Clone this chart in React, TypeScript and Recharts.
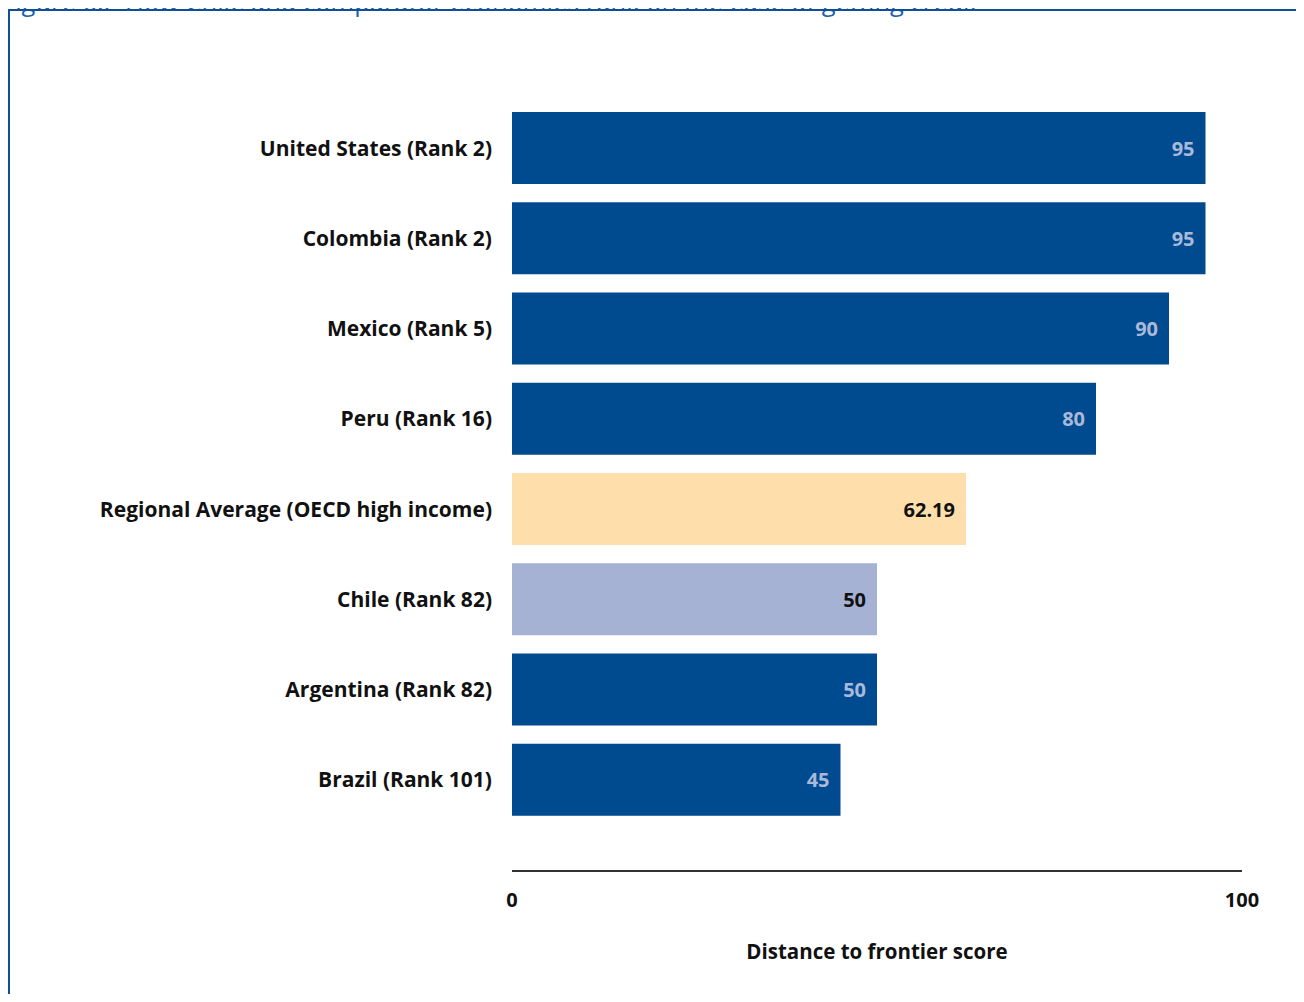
import { Bar, BarChart, Cell, LabelList, XAxis, YAxis } from "recharts";

const categories = [
  "United States (Rank 2)",
  "Colombia (Rank 2)",
  "Mexico (Rank 5)",
  "Peru (Rank 16)",
  "Regional Average (OECD high income)",
  "Chile (Rank 82)",
  "Argentina (Rank 82)",
  "Brazil (Rank 101)",
];
const scores = [95, 95, 90, 80, 62.19, 50, 50, 45];
const xTicks = [0, 100];

const DARK = "#004a8f";
const BAR_FILLS = [DARK, DARK, DARK, DARK, "#fedfab", "#a5b2d4", DARK, DARK];
const LABEL_FILLS = ["#a9b9d9", "#a9b9d9", "#a9b9d9", "#a9b9d9", "#111", "#111", "#a9b9d9", "#a9b9d9"];
const FONT = "'Open Sans', 'Noto Sans', sans-serif";

const data = categories.map((name, i) => ({ name, score: scores[i] }));

function ValueLabel(props: any) {
  const { x, y, width, height, value, index } = props;
  return (
    <text
      x={x + width - 11}
      y={y + height / 2}
      textAnchor="end"
      dominantBaseline="central"
      fill={LABEL_FILLS[index]}
      fontSize={20}
      fontWeight={700}
      fontFamily={FONT}
    >
      {value}
    </text>
  );
}

export default function App() {
  return (
    <div style={{ position: "relative", margin: -8, width: 1304, height: 1002, overflow: "hidden", background: "#fff" }}>
      <div
        style={{
          position: "absolute",
          left: 2,
          top: -14,
          fontFamily: FONT,
          fontSize: 25.5,
          lineHeight: "30px",
          color: "#1f62b0",
          whiteSpace: "nowrap",
        }}
      >
        Figure 6.2 How Chile and comparator economies rank on the ease of getting credit
      </div>
      <div
        style={{
          position: "absolute",
          left: 8,
          top: 9,
          width: 1320,
          height: 1020,
          border: "2px solid #0d4f99",
          boxSizing: "border-box",
        }}
      />
      <div style={{ position: "absolute", left: 0, top: 0 }}>
        <BarChart
          width={1304}
          height={1002}
          data={data}
          layout="vertical"
          margin={{ top: 103, right: 62, bottom: 31, left: 0 }}
        >
          <XAxis
            type="number"
            dataKey="score"
            domain={[0, 100]}
            ticks={xTicks}
            axisLine={{ stroke: "#333", strokeWidth: 2 }}
            tickLine={false}
            tickSize={0}
            tickMargin={22}
            height={100}
            tick={{ fill: "#111", fontSize: 20, fontWeight: 700, fontFamily: FONT }}
            label={{
              value: "Distance to frontier score",
              position: "insideBottom",
              offset: 12,
              fill: "#111",
              fontSize: 20.5,
              fontWeight: 700,
              fontFamily: FONT,
            }}
          />
          <YAxis
            type="category"
            dataKey="name"
            width={512}
            axisLine={false}
            tickLine={false}
            tickSize={0}
            tickMargin={20}
            padding={{ top: 0, bottom: 46 }}
            interval={0}
            tick={{ fill: "#111", fontSize: 21, fontWeight: 700, fontFamily: FONT }}
          />
          <Bar dataKey="score" barSize={72} isAnimationActive={false}>
            {data.map((_, i) => (
              <Cell key={i} fill={BAR_FILLS[i]} />
            ))}
            <LabelList dataKey="score" content={<ValueLabel />} />
          </Bar>
        </BarChart>
      </div>
    </div>
  );
}
